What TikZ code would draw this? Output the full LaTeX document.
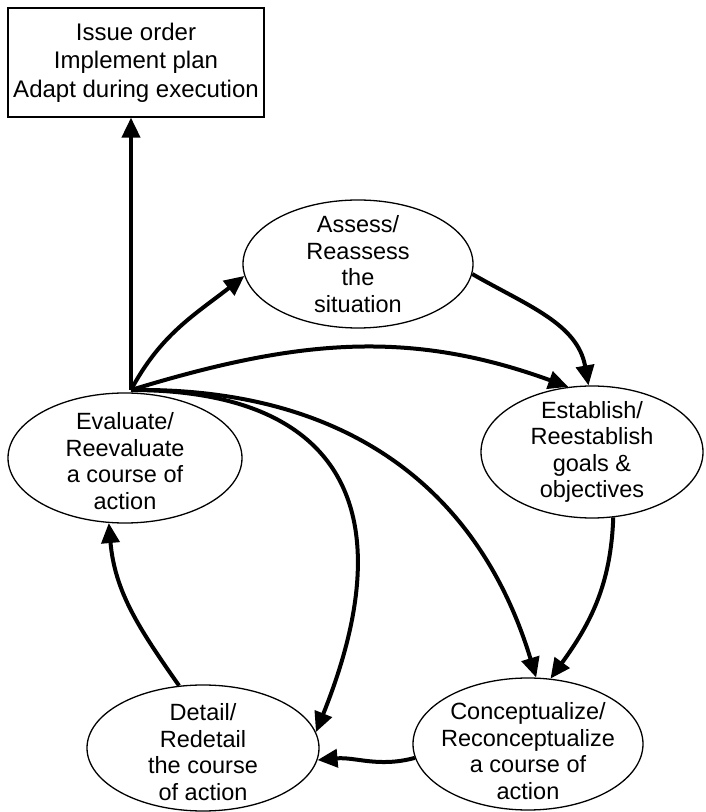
\documentclass[tikz,border=0pt]{standalone}
\usepackage{fontspec}
\setmainfont{Liberation Sans}
\usetikzlibrary{arrows.meta,shapes.geometric}
\begin{document}
\begin{tikzpicture}[x=1pt,y=1pt,
  oval/.style={draw, ellipse, line width=1.3pt, inner sep=0pt},
  lbl/.style={align=center, font=\fontsize{23.5}{26.5}\selectfont, inner sep=0pt},
  arr/.style={line width=4pt, -{Triangle[length=20pt,width=18pt]}},
]
\useasboundingbox (0,0) rectangle (705,812);
\node[draw, line width=1.2pt, minimum width=256pt, minimum height=109pt, inner sep=0pt,
      align=center, font=\fontsize{24}{28.5}\selectfont] (box) at (136,749.5)
  {Issue order\\Implement plan\\Adapt during execution};

\node[oval, minimum width=230pt, minimum height=128pt] (assess) at (358,548) {};
\node[lbl] at (assess.center) {Assess/\\Reassess\\the\\situation};

\node[oval, minimum width=222pt, minimum height=132pt] (establish) at (592,360) {};
\node[lbl] at (establish.center) {Establish/\\Reestablish\\goals \&\\objectives};

\node[oval, minimum width=234pt, minimum height=130pt] (evaluate) at (125,354) {};
\node[lbl] at ([yshift=-3pt]evaluate.center) {Evaluate/\\Reevaluate\\a course of\\action};

\node[oval, minimum width=232pt, minimum height=126pt] (detail) at (203,64) {};
\node[lbl] at ([yshift=-4pt]detail.center) {Detail/\\Redetail\\the course\\of action};

\node[oval, minimum width=230pt, minimum height=132pt] (concept) at (528,68) {};
\node[lbl] at ([yshift=-7pt]concept.center) {Conceptualize/\\Reconceptualize\\a course of\\action};

\coordinate (hub) at (131,422);

\draw[arr] (hub) -- (hub |- box.south);
\draw[arr] (hub) to[out=62,in=218] (assess.186);
\draw[arr] (hub) to[out=17,in=160] (establish.110);
\draw[arr] (hub) .. controls (350,425) and (480,320) .. (concept.83);
\draw[arr] (hub) .. controls (330,422) and (410,314) .. (detail.8);
\draw[arr] (assess.-5) to[out=-30,in=100] (establish.93);
\draw[arr] (establish.-72) to[out=-92,in=54] (concept.71);
\draw[arr] (concept.187) to[out=195,in=5] (detail.-6);
\draw[arr] (detail.111) to[out=125,in=-85] (evaluate.-104);
\end{tikzpicture}
\end{document}
